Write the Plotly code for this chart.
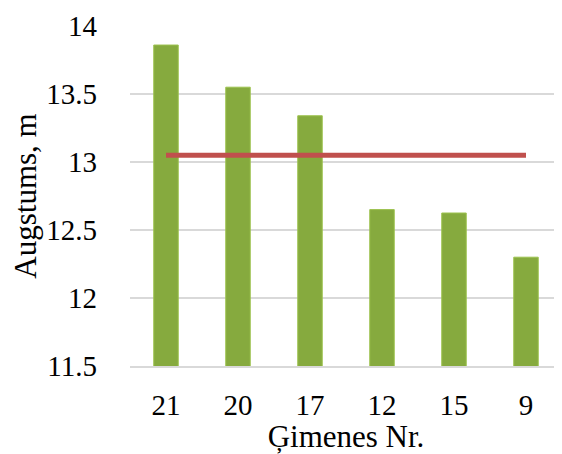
import plotly.graph_objects as go

families = ["21", "20", "17", "12", "15", "9"]
heights = [13.86, 13.55, 13.34, 12.65, 12.625, 12.30]
average = [13.05] * len(families)

y_ticks = [11.5, 12, 12.5, 13, 13.5, 14]
y_tick_text = ["11.5", "12", "12.5", "13", "13.5", "14"]

FONT = "Liberation Serif, Times New Roman, serif"

fig = go.Figure()
fig.add_trace(go.Bar(
    x=families, y=heights,
    base=0,
    marker=dict(color="#86AA3E", line=dict(color="#9CC24E", width=1)),
    showlegend=False,
))
fig.add_trace(go.Scatter(
    x=families, y=average, mode="lines",
    line=dict(color="#C0504D", width=5),
    showlegend=False,
))

# page body adds an 8px margin, so the figure is sized/offset to compensate
fig.update_layout(
    width=554, height=446,
    margin=dict(l=122, r=0, t=18, b=88),
    paper_bgcolor="white", plot_bgcolor="white",
    bargap=0.66,
    font=dict(family=FONT, size=29, color="#000000"),
)
fig.update_xaxes(
    type="category",
    showgrid=False, showline=True, linecolor="#D9D9D9", linewidth=1.5,
    ticks="", ticklabelstandoff=12,
    tickfont=dict(size=29),
    title=dict(text="Ģimenes Nr.", font=dict(size=31), standoff=14),
    automargin=False,
)
fig.update_yaxes(
    range=[11.5, 14], tickvals=y_ticks, ticktext=y_tick_text,
    showgrid=True, gridcolor="#D9D9D9", gridwidth=1.5,
    zeroline=False, showline=False, ticks="",
    ticklabelstandoff=32,
    tickfont=dict(size=29),
    title=dict(text="Augstums, m", font=dict(size=31), standoff=16),
    automargin=False,
)

fig.write_html("out.html")
